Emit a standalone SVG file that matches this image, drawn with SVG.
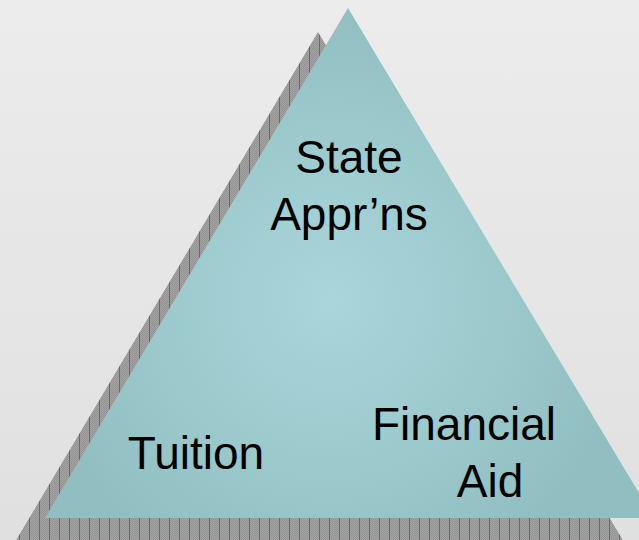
<svg xmlns="http://www.w3.org/2000/svg" width="639" height="540" viewBox="0 0 639 540">
<style>
.lbl{font-family:"Liberation Sans",Arial,sans-serif;font-size:46px;fill:#000;text-anchor:middle}
</style>
<defs>
<linearGradient id="bg" x1="0" y1="0" x2="0" y2="1">
<stop offset="0" stop-color="#ececec"/>
<stop offset="1" stop-color="#e0e0e0"/>
</linearGradient>
<radialGradient id="tri" cx="330" cy="300" r="300" gradientUnits="userSpaceOnUse">
<stop offset="0" stop-color="#a9d6da"/>
<stop offset="1" stop-color="#91bfc1"/>
</radialGradient>
<pattern id="hatch" patternUnits="userSpaceOnUse" width="10" height="2">
<rect width="10" height="2" fill="#a4a4a4"/>
<rect x="0" y="0" width="1" height="1" fill="#929292"/>
<rect x="2" y="0" width="1" height="1" fill="#929292"/>
<rect x="4" y="0" width="1" height="1" fill="#929292"/>
<rect x="6" y="0" width="1" height="1" fill="#929292"/>
<rect x="8" y="0" width="1" height="1" fill="#929292"/>
<rect x="1" y="1" width="1" height="1" fill="#929292"/>
<rect x="3" y="1" width="1" height="1" fill="#929292"/>
<rect x="5" y="1" width="1" height="1" fill="#929292"/>
<rect x="7" y="1" width="1" height="1" fill="#929292"/>
<rect x="9" y="1" width="1" height="1" fill="#929292"/>
<rect x="9" y="0" width="1" height="2" fill="#6a6a6a"/>
</pattern>
</defs>
<rect width="639" height="540" fill="url(#bg)"/>
<g id="shadow">
<polygon points="318,32 15,542 624,542" fill="url(#hatch)"/>
</g>
<g id="triangle">
<polygon points="348,8 45,518 654,518" fill="url(#tri)"/>
</g>
<g id="state-apprns">
<text class="lbl" x="349" y="173">State</text>
<text class="lbl" x="349" y="230">Appr’ns</text>
</g>
<g id="tuition">
<text class="lbl" x="196" y="469">Tuition</text>
</g>
<g id="financial-aid">
<text class="lbl" x="464" y="440">Financial</text>
<text class="lbl" x="490" y="497">Aid</text>
</g>
<g id="connectors"/>
</svg>
